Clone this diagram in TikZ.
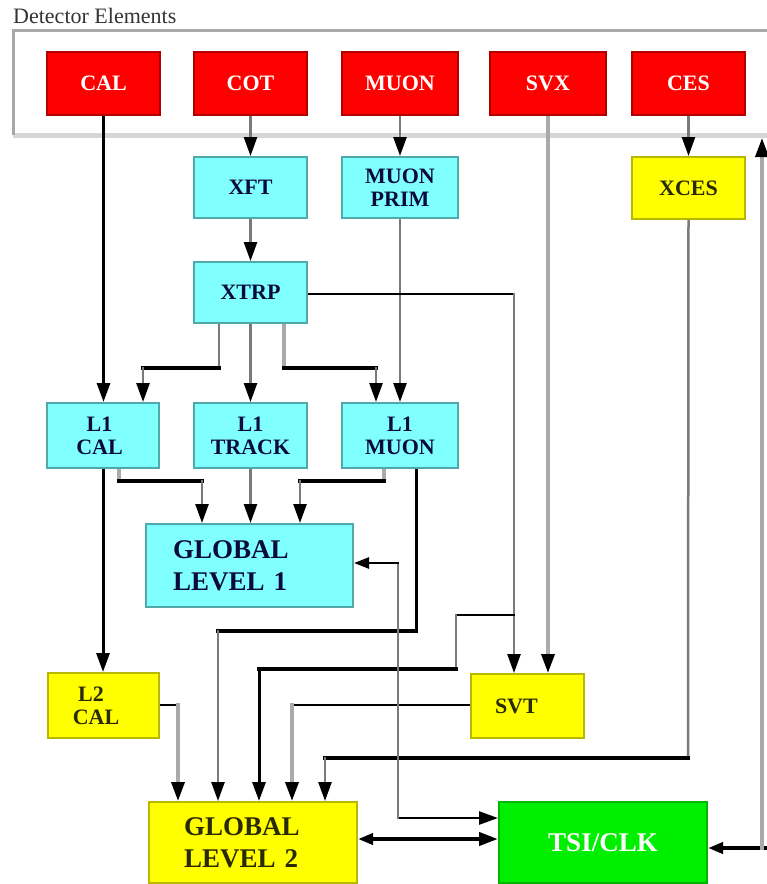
\documentclass[tikz,border=0pt]{standalone}
\usepackage{fontspec}
\setmainfont{Liberation Serif}
\usetikzlibrary{arrows.meta}
\pgfdeclarelayer{bg}
\pgfsetlayers{bg,main}
\definecolor{cRed}{HTML}{FF0000}
\definecolor{cRedB}{HTML}{B00000}
\definecolor{cCyan}{HTML}{80FFFF}
\definecolor{cCyanB}{HTML}{50A8A8}
\definecolor{cYel}{HTML}{FFFF00}
\definecolor{cYelB}{HTML}{B8B800}
\definecolor{cGrn}{HTML}{00EE00}
\definecolor{cGrnB}{HTML}{00B400}
\definecolor{cGray}{HTML}{7A7A7A}
\definecolor{cLGray}{HTML}{AAAAAA}
\definecolor{cFrame}{HTML}{A8A8A8}
\definecolor{cFrameB}{HTML}{D6D6D6}
\definecolor{cTxtC}{HTML}{0A0A3C}
\definecolor{cTxtY}{HTML}{2A2A00}
\begin{document}
\begin{tikzpicture}[x=1pt,y=-1pt,
  box/.style={draw, line width=2pt, inner sep=0pt, align=center,
    font=\bfseries\fontsize{22}{23}\selectfont},
  bigtxt/.style={font=\bfseries\fontsize{27}{32}\selectfont},
  redbox/.style={box, fill=cRed, draw=cRedB, text=white, minimum height=63pt},
  cybox/.style={box, fill=cCyan, draw=cCyanB, text=cTxtC},
  ybox/.style={box, fill=cYel, draw=cYelB, text=cTxtY},
  gbox/.style={box, fill=cGrn, draw=cGrnB, text=white},
  arr/.style={-{Triangle[length=19pt,width=13pt,color=black]}},
  sarr/.style={-{Triangle[length=15pt,width=11pt,color=black]}},
  bk/.style={draw=black, line width=4pt, line cap=rect},
  bkm/.style={draw=black, line width=3pt, line cap=rect},
  bkt/.style={draw=black, line width=2.5pt, line cap=rect},
  gr/.style={draw=cGray, line width=2.5pt, line cap=rect},
  lg/.style={draw=cLGray, line width=3.5pt, line cap=rect},
  framel/.style={draw=cFrame, line width=3pt},
  frameb/.style={draw=cFrameB, line width=5pt}
]
\useasboundingbox (0,0) rectangle (767,884);

% title and frame
\node[anchor=base west, inner sep=0pt, text=black!80, font=\fontsize{22}{22}\selectfont] (title) at (13,23) {Detector Elements};
\node[draw=none, minimum width=787pt, minimum height=105pt, inner sep=0pt, outer sep=0pt] (det) at (406.5,82.5) {};

% detector elements
\node[redbox, minimum width=113pt] (cal)  at (103.5,83.5) {CAL};
\node[redbox, minimum width=113pt] (cot)  at (250.5,83.5) {COT};
\node[redbox, minimum width=116pt] (muon) at (400,83.5)   {MUON};
\node[redbox, minimum width=116pt] (svx)  at (548,83.5)   {SVX};
\node[redbox, minimum width=113pt] (ces)  at (688.5,83.5) {CES};

% second row
\node[cybox, minimum width=113pt, minimum height=61pt] (xft)      at (250.5,187.5) {XFT};
\node[cybox, minimum width=116pt, minimum height=61pt] (muonprim) at (400,187.5)   {MUON\\PRIM};
\node[ybox,  minimum width=113pt, minimum height=62pt] (xces)     at (688.5,188)   {XCES};
\node[cybox, minimum width=113pt, minimum height=61pt] (xtrp)     at (250.5,292.5) {XTRP};

% level 1
\node[cybox, minimum width=112pt, minimum height=65pt] (l1cal)   at (103,435.5)   {L1\hspace*{7pt}\\CAL\hspace*{7pt}};
\node[cybox, minimum width=113pt, minimum height=65pt] (l1track) at (250.5,435.5) {L1\\TRACK};
\node[cybox, minimum width=116pt, minimum height=65pt] (l1muon)  at (400,435.5)   {L1\\MUON};
\node[cybox, bigtxt, minimum height=83pt, text width=153pt, inner xsep=27pt, align=left] (gl1) at (249.5,565.5) {GLOBAL\\LEVEL 1};

% level 2
\node[ybox, minimum width=111pt, minimum height=65pt] (l2cal) at (103.5,705.5) {L2\hspace*{25pt}\\CAL\hspace*{15pt}};
\node[ybox, minimum height=64pt, text width=65pt, inner xsep=24pt, align=left] (svt) at (527.5,706) {SVT};
\node[ybox, bigtxt, minimum height=81pt, text width=138pt, inner xsep=35pt, align=left] (gl2) at (253,842.5) {GLOBAL\\LEVEL 2};
\node[gbox, bigtxt, minimum width=208pt, minimum height=81pt] (tsi) at (603,842.5) {TSI/CLK};

\begin{pgfonlayer}{bg}
% frame edges
\draw[frameb] (det.south west) -- (det.south east);
\draw[framel] (det.north east) -- (det.north west) -- (det.south west);

% detector to first stage
\draw[bkm, arr] (cal.south) -- (cal.south |- l1cal.north);
\draw[gr, arr] (cot.south) -- (xft.north);
\draw[gr, arr] (muon.south) -- (muonprim.north);
\draw[gr, arr] (ces.south) -- (xces.north);
\draw[lg, arr] (svx.south) -- (svx.south |- svt.north);
\draw[gr, arr] (xft.south) -- (xtrp.north);
\draw[gr, arr] (muonprim.south) -- (l1muon.north);

% XTRP outputs
\draw[gr] (xtrp.south -| 219,0) -- (219,368);
\draw[bk] (219,368) -- (143,368);
\draw[gr, arr] (143,368) -- (l1cal.north -| 143,0);
\draw[gr, arr] (xtrp.south) -- (l1track.north);
\draw[lg] (xtrp.south -| 284,0) -- (284,368);
\draw[bk] (284,368) -- (376,368);
\draw[gr, arr] (376,368) -- (l1muon.north -| 376,0);
\draw[bkt] (xtrp.east |- 0,294) -- (514,294);
\draw[gr, arr] (514,294) -- (svt.north -| 514,0);

% level 1 to global level 1 / L2 CAL
\draw[bkm, arr] (l1cal.south) -- (l1cal.south |- l2cal.north);
\draw[lg] (l1cal.south -| 119,0) -- (119,481);
\draw[bk] (119,481) -- (202,481);
\draw[gr, arr] (202,481) -- (gl1.north -| 202,0);
\draw[gr, arr] (l1track.south) -- (l1track.south |- gl1.north);
\draw[lg] (l1muon.south -| 384,0) -- (384,481);
\draw[bk] (384,481) -- (300,481);
\draw[gr, arr] (300,481) -- (gl1.north -| 300,0);

% inputs to global level 2
\draw[bkm] (l1muon.south -| 416,0) -- (416,631);
\draw[bk] (416,631) -- (218,631);
\draw[gr, arr] (218,631) -- (gl2.north -| 218,0);
\draw[bkt] (514,615) -- (456,615);
\draw[gr] (456,615) -- (456,669);
\draw[bk] (456,669) -- (259,669);
\draw[bkm, arr] (259,669) -- (gl2.north -| 259,0);
\draw[bkt] (svt.west |- 0,705) -- (292,705);
\draw[lg, arr] (292,705) -- (gl2.north -| 292,0);
\draw[gr] (xces.south) -- (688,758);
\draw[bk] (688,758) -- (325,758);
\draw[gr, arr] (325,758) -- (gl2.north -| 325,0);
\draw[bkt] (l2cal.east |- 0,705) -- (178,705);
\draw[lg, arr] (178,705) -- (gl2.north -| 178,0);

% TSI/CLK connections
\draw[bkt, arr] (398,818) -- (tsi.west |- 0,818);
\draw[gr] (398,818) -- (398,563);
\draw[bkt, sarr] (398,563) -- (gl1.east |- 0,563);
\draw[bk, {Triangle[length=15pt,width=11pt]}-{Triangle[length=19pt,width=13pt]}, line cap=butt] (gl2.east |- 0,839) -- (tsi.west |- 0,839);
\draw[bk, sarr] (775,848) -- (tsi.east |- 0,848);
\draw[lg, arr] (762,848) -- (762,138);
\end{pgfonlayer}
\end{tikzpicture}
\end{document}
